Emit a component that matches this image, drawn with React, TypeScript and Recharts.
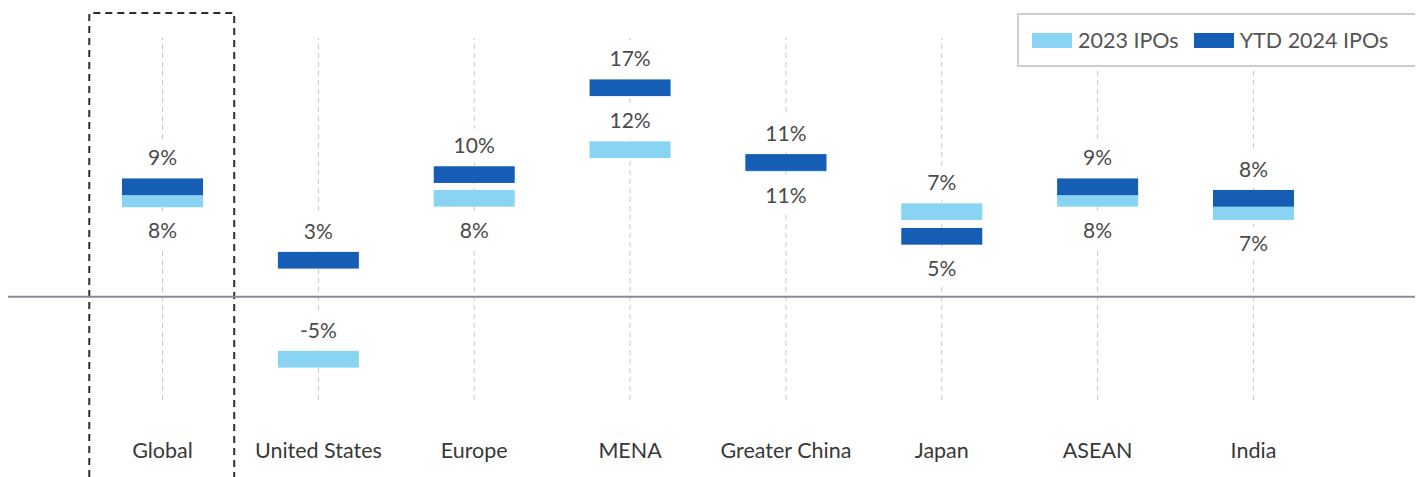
import {
  ComposedChart,
  LabelList,
  Line,
  ReferenceArea,
  ReferenceLine,
  XAxis,
  YAxis,
} from "recharts";

const regions = [
  "Global",
  "United States",
  "Europe",
  "MENA",
  "Greater China",
  "Japan",
  "ASEAN",
  "India",
];
// average first-day returns, %
const returns2023 = [8.05, -5.15, 8.1, 12.1, 11.0, 7.0, 8.1, 7.0];
const returnsYtd2024 = [9.05, 3.0, 10.05, 17.2, 11.05, 4.97, 9.05, 8.1];
const seriesNames = ["2023 IPOs", "YTD 2024 IPOs"];
const xTicks = regions.map((_, i) => i);

const LIGHT = "#89d4f2";
const DARK = "#155db5";
const FONT = "Lato, 'Noto Sans', sans-serif";

const data = regions.map((region, i) => ({
  idx: i,
  region,
  light: returns2023[i],
  dark: returnsYtd2024[i],
}));

type Key = "light" | "dark";

// higher marker gets its label on top, lower one underneath,
// unless the two are far apart, then both sit on top
function labelAbove(i: number, key: Key) {
  const a = returns2023[i];
  const b = returnsYtd2024[i];
  if (Math.abs(a - b) >= 4) return true;
  return key === "dark" ? b >= a : a > b;
}

function makeMarker(fill: string) {
  return (props: any) => {
    const { cx, cy, index } = props;
    if (cx == null || cy == null) return <g key={index} />;
    return <rect key={index} x={cx - 40.5} y={cy - 8.4} width={81} height={16.7} fill={fill} />;
  };
}

function makeLabel(key: Key) {
  return (props: any) => {
    const { x, y, value, index } = props;
    if (value == null) return null;
    const cy = labelAbove(index, key) ? y - 29 : y + 32;
    return (
      <g key={index}>
        <rect x={x - 23} y={cy - 17} width={46} height={34} fill="#fff" />
        <text
          x={x}
          y={cy}
          dy={7.5}
          textAnchor="middle"
          fill="#4a4a4a"
          fontFamily={FONT}
          fontSize={21}
        >
          {Math.round(value)}%
        </text>
      </g>
    );
  };
}

function RegionTick(props: any) {
  const { x, y, payload } = props;
  return (
    <text x={x} y={y + 50} textAnchor="middle" fill="#383838" fontFamily={FONT} fontSize={21.5}>
      {regions[payload.value]}
    </text>
  );
}

function LegendBox() {
  const item = (color: string, name: string, gap: number) => (
    <div style={{ display: "flex", alignItems: "center", marginLeft: gap }}>
      <div style={{ width: 40, height: 15, background: color }} />
      <span style={{ marginLeft: 6 }}>{name}</span>
    </div>
  );
  return (
    <div
      style={{
        position: "absolute",
        left: 1009,
        top: 5,
        width: 402,
        height: 54,
        boxSizing: "border-box",
        border: "2px solid #cfcfcf",
        background: "#fff",
        display: "flex",
        alignItems: "center",
        fontFamily: FONT,
        fontSize: 21.5,
        color: "#555",
      }}
    >
      {item(LIGHT, seriesNames[0], 13)}
      {item(DARK, seriesNames[1], 15)}
    </div>
  );
}

export default function App() {
  return (
    <div style={{ position: "relative", width: 1415, height: 469 }}>
      <ComposedChart
        width={1415}
        height={469}
        data={data}
        margin={{ top: 30, right: 91.6, bottom: 0, left: 76.6 }}
        style={{ overflow: "visible" }}
      >
        <XAxis
          dataKey="idx"
          type="number"
          domain={[-0.5, 7.5]}
          ticks={xTicks}
          interval={0}
          height={77}
          axisLine={false}
          tickLine={false}
          tick={<RegionTick />}
        />
        <YAxis type="number" domain={[-8.5, 21.3]} allowDataOverflow hide />
        {xTicks.map((t) => (
          <ReferenceLine key={t} x={t} stroke="#c8c8c8" strokeDasharray="5 4" />
        ))}
        <ReferenceArea
          x1={-0.47}
          x2={0.46}
          ifOverflow="visible"
          shape={(p: any) => (
            <path
              d={`M${p.x},469 V5 H${p.x + p.width} V469`}
              fill="none"
              stroke="#2e2e38"
              strokeWidth={2}
              strokeDasharray="7 5"
            />
          )}
        />
        <ReferenceLine
          y={0}
          ifOverflow="visible"
          shape={(p: any) => (
            <line x1={-1} x2={1415} y1={p.y1} y2={p.y1} stroke="#8a8a96" strokeWidth={2} />
          )}
        />
        <Line
          dataKey="light"
          stroke="none"
          dot={makeMarker(LIGHT)}
          activeDot={false}
          isAnimationActive={false}
        >
          <LabelList dataKey="light" content={makeLabel("light")} />
        </Line>
        <Line
          dataKey="dark"
          stroke="none"
          dot={makeMarker(DARK)}
          activeDot={false}
          isAnimationActive={false}
        >
          <LabelList dataKey="dark" content={makeLabel("dark")} />
        </Line>
      </ComposedChart>
      <LegendBox />
    </div>
  );
}
